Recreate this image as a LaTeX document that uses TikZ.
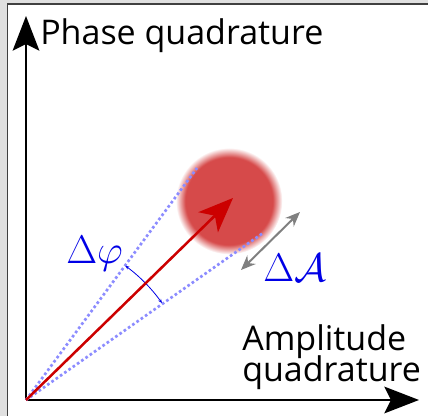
\RequirePackage{fix-cm}
\documentclass[tikz,border=0pt]{standalone}
\usepackage[no-math]{fontspec}
\setmainfont{Open Sans}
\usetikzlibrary{arrows.meta,calc}
\definecolor{framegray}{RGB}{224,224,224}
\definecolor{spotred}{RGB}{214,74,74}
\definecolor{vecred}{RGB}{204,0,0}
\definecolor{dotblue}{RGB}{140,140,255}
\definecolor{labelblue}{RGB}{0,0,230}
\pgfdeclareradialshading{spotfade}{\pgfpoint{0bp}{0bp}}{color(0bp)=(spotred); color(20.5bp)=(spotred); color(25bp)=(white); color(50bp)=(white)}

\begin{document}
\begin{tikzpicture}[x=0.75pt,y=0.75pt,every node/.style={inner sep=0pt},
  axis/.style={line width=1.6pt,-{Stealth[length=26pt,width=20pt,inset=5pt]}},
  tangent/.style={dotblue,line width=2pt,dash pattern=on 2pt off 1.9pt},
  quadtext/.style={font=\fontsize{25.5}{28}\selectfont},
  mathtext/.style={text=labelblue,font=\fontsize{30}{34}\selectfont}]
\useasboundingbox (0,0) rectangle (428,416);
\clip (0,0) rectangle (428,416);
\fill[framegray] (0,0) rectangle (428,416);
\draw[fill=white,draw=black!75,line width=1.2pt] (7.5,-20) rectangle (450,412);
% noise spot
\node[circle,minimum size=80pt,shading=spotfade] (spot) at (229,215) {};
% axes
\coordinate (O) at (26,16);
\coordinate (ytip) at (26,400);
\coordinate (xtip) at (419,16);
\draw[axis] (O) -- (ytip);
\draw[axis] (O) -- (xtip);
\node[quadtext,anchor=base west] (phase) at (40,371) {Phase quadrature};
\node[quadtext,anchor=base west] (ampl) at (242,65) {Amplitude};
\node[quadtext,anchor=base west] (quad) at (242,34) {quadrature};
% tangents and angle
\coordinate (tup) at (197,248);
\coordinate (tlow) at (263,183);
\draw[tangent] (O) -- (tup);
\draw[tangent] (O) -- (tlow);
\coordinate (arcstart) at ($(O)+(35.5:167)$);
\draw[labelblue,line width=0.6pt,{Stealth[length=3pt,width=2.5pt]}-{Stealth[length=3pt,width=2.5pt]}]
  (arcstart) arc[start angle=35.5,end angle=53.5,radius=167];
\node[mathtext,anchor=base west] (dphi) at (66,152) {$\Delta\varphi$};
% amplitude spread
\coordinate (aone) at (241,146);
\coordinate (atwo) at (300,204);
\draw[black!50,line width=1.5pt,{Stealth[length=11pt,width=9pt]}-{Stealth[length=11pt,width=9pt]}] (aone) -- (atwo);
\node[mathtext,anchor=base west] (dA) at (263,134) {$\Delta\mathcal{A}$};
% mean field
\coordinate (vtip) at (233,218);
\draw[vecred,line width=1.9pt,-{Stealth[length=26pt,width=21pt,inset=7pt]}] (O) -- (vtip);
\end{tikzpicture}
\end{document}
